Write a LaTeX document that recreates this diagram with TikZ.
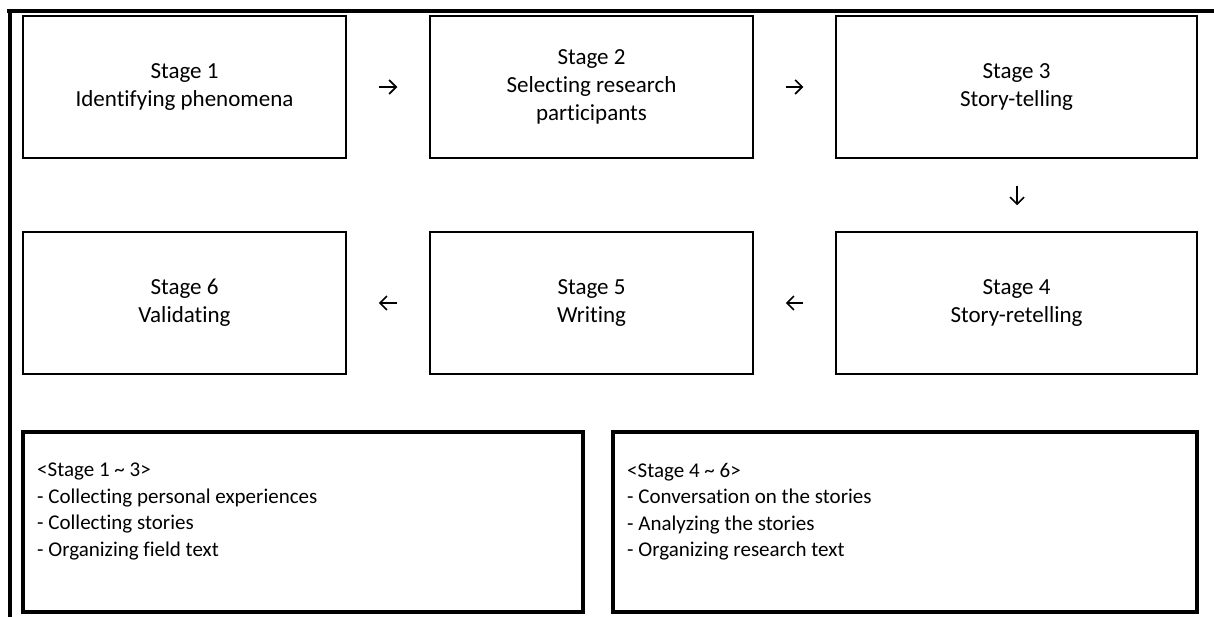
\documentclass[tikz,border=0pt]{standalone}
\usepackage{fontspec}
\setmainfont{Carlito}[Ligatures={NoCommon}]
\usetikzlibrary{arrows.meta}
\tikzset{
  stagebox/.style={draw, line width=1.5pt, minimum width=323pt, minimum height=142pt, inner sep=0pt, align=center, font=\fontsize{23}{28}\selectfont},
  bigbox/.style={draw, line width=4.5pt},
  notetext/.style={inner sep=0pt, align=left, anchor=west, font=\fontsize{21}{26.5}\selectfont},
  arr/.style={-{Straight Barb[length=7pt,width=14pt,line width=1.6pt]}, line width=1.6pt},
  frame/.style={line width=4.5pt}
}
\begin{document}
\begin{tikzpicture}[x=1pt,y=-1pt]
\useasboundingbox (0,0) rectangle (1214,617);
% frame
\draw[frame] (7,11) coordinate (ftl0) -- (1214,11) coordinate (ftr);
\draw[frame] (10,9) coordinate (ftl) -- (10,617) coordinate (fbl);
% stage boxes
\node[stagebox, minimum width=323pt] (s1) at (184.5,87) {Stage 1\\Identifying phenomena};
\node[stagebox, minimum width=323pt] (s2) at (591.5,87) {Stage 2\\Selecting research\\participants};
\node[stagebox, minimum width=361pt] (s3) at (1016.5,87) {Stage 3\\Story-telling};
\node[stagebox, minimum width=361pt] (s4) at (1016.5,303) {Stage 4\\Story-retelling};
\node[stagebox, minimum width=323pt] (s5) at (591.5,303) {Stage 5\\Writing};
\node[stagebox, minimum width=323pt] (s6) at (184.5,303) {Stage 6\\Validating};
% arrows
\draw[arr, shorten <=32pt, shorten >=32pt] (s1.east) -- (s2.west);
\draw[arr, shorten <=32pt, shorten >=32pt] (s2.east) -- (s3.west);
\draw[arr, shorten <=27pt, shorten >=26pt] (s3.south -| 1017,0) -- (s4.north -| 1017,0);
\draw[arr, shorten <=32pt, shorten >=32pt] (s4.west) -- (s5.east);
\draw[arr, shorten <=32pt, shorten >=32pt] (s5.west) -- (s6.east);
% bottom boxes
\draw[bigbox] (23,432) rectangle (583,612);
\draw[bigbox] (613,432) rectangle (1197,612);
\node[notetext] (na) at (37,511.5) {<Stage 1 \textasciitilde{} 3>\\- Collecting personal experiences\\- Collecting stories\\- Organizing field text};
\node[notetext] (nb) at (627,511.5) {<Stage 4 \textasciitilde{} 6>\\- Conversation on the stories\\- Analyzing the stories\\- Organizing research text};
\end{tikzpicture}
\end{document}
